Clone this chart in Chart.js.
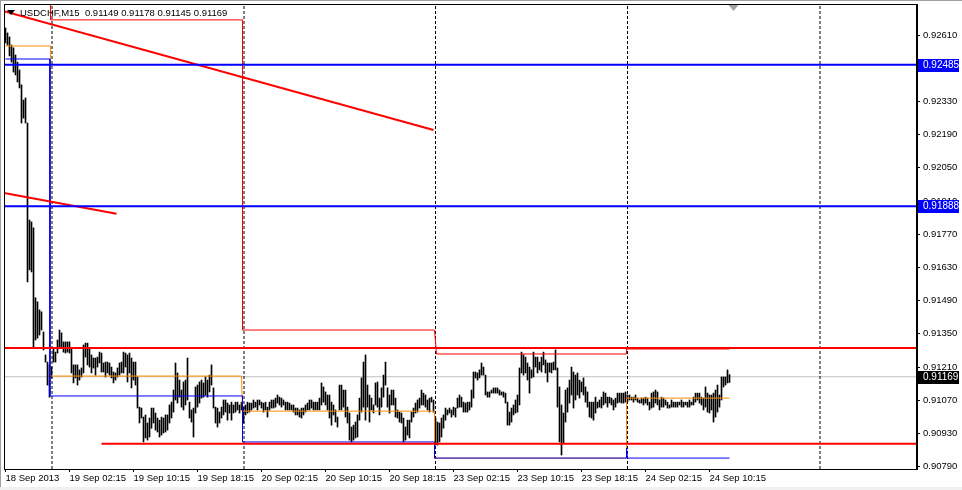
<!DOCTYPE html>
<html>
<head>
<meta charset="utf-8">
<script src="https://cdn.jsdelivr.net/npm/chart.js@4.4.1/dist/chart.umd.min.js"></script>
<style>
  html, body { margin: 0; padding: 0; background: #fff; }
  canvas { display: block; }
</style>
</head>
<body>
<canvas id="chart" width="962" height="490"></canvas>
<script>
// USDCHF M15, one bar per index (bar 0 = 18 Sep 18:15)
const title = "USDCHF,M15  0.91149 0.91178 0.91145 0.91169";

const barHigh = [
  0.92640,0.92619,0.92602,0.92568,0.92556,0.92526,0.92496,0.92463,0.92400,0.92336,0.92345,0.92239,0.91830,0.91822,0.91797,0.91502,0.91485,0.91451,0.91443,0.91358,0.91261,0.91231,0.91219,0.91210,
  0.91290,0.91273,0.91324,0.91366,0.91354,0.91316,0.91316,0.91316,0.91316,0.91290,0.91219,0.91219,0.91219,0.91198,0.91206,0.91303,0.91311,0.91311,0.91290,0.91261,0.91248,0.91248,
  0.91252,0.91273,0.91269,0.91227,0.91231,0.91231,0.91227,0.91210,0.91189,0.91185,
  0.91206,0.91227,0.91231,0.91273,0.91269,0.91261,0.91269,0.91248,0.91231,0.91231,
  0.91168,0.91041,0.91037,0.90999,0.91008,0.90974,0.90995,0.91037,0.91037,0.91016,
  0.90995,0.90986,0.90999,0.90995,0.91008,0.91008,0.91050,0.91062,0.91113,0.91227,
  0.91185,0.91155,0.91113,0.91147,0.91155,0.91248,0.91062,0.91029,0.91037,0.91126,
  0.91134,0.91147,0.91155,0.91143,0.91168,0.91155,0.91176,0.91219,0.91122,0.91041,
  0.91037,0.91020,0.91041,0.91071,0.91071,0.91058,0.91050,0.91062,0.91050,0.91062,
  0.91062,0.91050,0.91062,0.91041,0.91050,0.91062,0.91058,0.91058,0.91071,0.91062,
  0.91071,0.91071,
  0.91062,0.91058,0.91062,0.91041,0.91062,0.91071,0.91071,0.91079,0.91092,0.91083,
  0.91079,0.91071,0.91062,0.91062,0.91058,0.91050,0.91050,0.91037,0.91037,0.91029,
  0.91037,0.91037,0.91050,0.91058,0.91071,0.91071,0.91062,0.91062,0.91062,0.91079,
  0.91143,0.91126,0.91105,0.91092,0.91092,0.91062,0.91050,0.91029,0.90999,0.91134,
  0.91134,0.91113,0.91113,0.91041,0.91016,0.90957,0.90965,0.90978,0.91008,0.91079,
  0.91164,0.91231,0.91261,0.91134,0.91092,0.91079,0.91050,0.91143,0.91147,0.91079,
  0.91122,0.91176,0.91231,0.91122,0.91092,0.91113,0.91113,0.91079,0.91029,0.91020,
  0.91016,0.90995,0.90957,0.90986,0.90986,0.91020,0.91037,0.91058,0.91071,0.91079,
  0.91113,0.91100,0.91092,0.91071,0.91079,0.91083,0.91071,
  0.90995,0.90978,0.90974,0.90995,0.91008,0.91037,0.91029,0.91037,0.91029,0.91041,
  0.91037,0.91079,0.91092,0.91083,0.91062,0.91058,0.91062,0.91062,0.91113,0.91189,
  0.91189,0.91185,0.91198,0.91227,0.91210,0.91176,0.91105,0.91105,0.91113,0.91122,
  0.91122,0.91122,0.91113,0.91105,0.91105,0.91100,0.91062,0.91020,0.91037,0.91050,
  0.91071,0.91092,0.91206,0.91273,0.91261,0.91252,0.91227,0.91210,0.91198,0.91273,
  0.91252,0.91252,0.91231,0.91252,0.91273,0.91240,0.91227,0.91227,0.91227,0.91231,
  0.91282,0.91206,0.91126,0.91050,0.91016,0.91113,0.91122,0.91155,0.91210,0.91189,
  0.91176,0.91185,0.91155,0.91147,0.91164,0.91126,0.91105,0.91062,0.91062,0.91062,
  0.91083,0.91062,0.91071,
  0.91083,0.91105,0.91100,0.91083,0.91083,0.91079,0.91071,0.91079,0.91100,0.91100,
  0.91100,0.91100,0.91105,0.91092,0.91092,0.91083,0.91083,0.91092,0.91079,0.91071,
  0.91079,0.91079,0.91083,0.91079,0.91062,0.91100,0.91105,0.91113,0.91105,0.91071,
  0.91083,0.91079,0.91071,0.91062,0.91050,0.91071,0.91062,0.91062,0.91062,0.91062,
  0.91071,0.91062,0.91062,0.91062,0.91071,0.91062,0.91083,0.91100,0.91100,0.91100,
  0.91083,0.91079,0.91126,0.91100,0.91092,0.91092,0.91100,0.91113,0.91134,0.91092,
  0.91168,0.91168,0.91168,0.91198,0.91178
];

const barLow = [
  0.92577,0.92568,0.92522,0.92496,0.92454,0.92442,0.92412,0.92387,0.92239,0.92260,0.92239,0.91569,0.91620,0.91611,0.91290,0.91324,0.91332,0.91345,0.91366,0.91282,0.91231,0.91134,0.91083,0.91164,
  0.91231,0.91231,0.91269,0.91290,0.91294,0.91273,0.91269,0.91273,0.91269,0.91185,0.91143,0.91164,0.91134,0.91155,0.91168,0.91185,0.91252,0.91219,0.91210,0.91185,0.91206,0.91176,
  0.91210,0.91227,0.91189,0.91189,0.91168,0.91185,0.91176,0.91164,0.91143,0.91155,
  0.91168,0.91176,0.91185,0.91185,0.91210,0.91147,0.91185,0.91122,0.91155,0.91134,
  0.91037,0.90974,0.90995,0.90894,0.90911,0.90902,0.90915,0.90952,0.90974,0.90944,
  0.90936,0.90915,0.90923,0.90932,0.90936,0.90944,0.90974,0.90995,0.91020,0.91071,
  0.91058,0.91083,0.91041,0.91029,0.91050,0.91071,0.90995,0.90978,0.90915,0.91016,
  0.91041,0.91058,0.91079,0.91083,0.91092,0.91083,0.91105,0.91134,0.91037,0.90974,
  0.90957,0.90974,0.90995,0.91008,0.91020,0.90986,0.91016,0.90986,0.91016,0.91020,
  0.91029,0.91016,0.91029,0.90974,0.91008,0.91016,0.91020,0.91029,0.91037,0.91041,
  0.91029,0.91050,
  0.91037,0.91020,0.91029,0.90999,0.91029,0.91037,0.91037,0.91041,0.91058,0.91050,
  0.91041,0.91050,0.91029,0.91029,0.91029,0.91029,0.91020,0.91008,0.91008,0.90999,
  0.90995,0.91008,0.91020,0.91029,0.91029,0.91037,0.91029,0.91029,0.91029,0.91029,
  0.91050,0.91062,0.91050,0.91029,0.90995,0.90965,0.91008,0.90978,0.90957,0.91029,
  0.91029,0.91041,0.90999,0.90974,0.90902,0.90894,0.90902,0.90911,0.90915,0.90986,
  0.91020,0.91041,0.90986,0.91041,0.90978,0.91029,0.91016,0.91050,0.91041,0.91008,
  0.91041,0.91083,0.91134,0.91041,0.91016,0.91050,0.91050,0.90999,0.90995,0.90978,
  0.90974,0.90894,0.90902,0.90923,0.90911,0.90978,0.90999,0.91016,0.91020,0.91037,
  0.91050,0.91050,0.91041,0.91029,0.91020,0.91062,0.91020,
  0.90881,0.90881,0.90894,0.90915,0.90952,0.90986,0.91008,0.91016,0.90999,0.91008,
  0.90999,0.91037,0.91041,0.91041,0.91020,0.91020,0.91020,0.91029,0.91041,0.91079,
  0.91164,0.91155,0.91164,0.91176,0.91176,0.91092,0.91083,0.91083,0.91100,0.91100,
  0.91100,0.91100,0.91092,0.91092,0.91083,0.91058,0.90965,0.90965,0.90978,0.91008,
  0.91016,0.91020,0.91050,0.91185,0.91176,0.91185,0.91155,0.91100,0.91164,0.91168,
  0.91210,0.91185,0.91198,0.91189,0.91219,0.91185,0.91147,0.91189,0.91185,0.91198,
  0.91198,0.91041,0.90894,0.90839,0.90889,0.90978,0.91020,0.91058,0.91092,0.91037,
  0.91071,0.91092,0.91079,0.91105,0.91092,0.91062,0.91041,0.90999,0.90995,0.90986,
  0.91016,0.91037,0.91041,
  0.91037,0.91050,0.91058,0.91041,0.91058,0.91050,0.91029,0.91041,0.91058,0.91062,
  0.91058,0.91058,0.91062,0.91062,0.91071,0.91071,0.91062,0.91071,0.91062,0.91058,
  0.91058,0.91050,0.91058,0.91050,0.91029,0.91037,0.91041,0.91058,0.91050,0.91029,
  0.91041,0.91041,0.91050,0.91037,0.91037,0.91041,0.91041,0.91041,0.91041,0.91050,
  0.91041,0.91041,0.91050,0.91041,0.91041,0.91050,0.91050,0.91062,0.91071,0.91058,
  0.91050,0.91029,0.91041,0.91020,0.91016,0.91029,0.90978,0.90999,0.91020,0.91041,
  0.91071,0.91126,0.91134,0.91143,0.91145
];

// time axis labels (bar index -> text)
const xTickBars = [0, 32, 64, 96, 128, 160, 192, 224, 256, 288, 320, 352];
const xTickLabels = ["18 Sep 2013", "19 Sep 02:15", "19 Sep 10:15", "19 Sep 18:15", "20 Sep 02:15",
  "20 Sep 10:15", "20 Sep 18:15", "23 Sep 02:15", "23 Sep 10:15", "23 Sep 18:15", "24 Sep 02:15", "24 Sep 10:15"];
const yTicks = [0.90790, 0.90930, 0.91070, 0.91210, 0.91350, 0.91490, 0.91630, 0.91770,
  0.91910, 0.92050, 0.92190, 0.92330, 0.92470, 0.92610];
const daySeparators = [23.25, 119.25, 215, 311, 407.25];

// objects on the chart
const blueLevels = [0.92485, 0.91888];
const redLevel = 0.91290;
const supportLevel = 0.90886, supportFrom = 48;
const bidPrice = 0.91169;
const trendA = [[-0.75, 0.92711], [214, 0.92210]];
const trendB = [[-0.75, 0.91944], [55.5, 0.91856]];
const prevHighSteps = [[22.5, 0.92800], [22.5, 0.92674], [118.5, 0.92674], [118.5, 0.91366], [214.5, 0.91366],
  [215.5, 0.91265], [310.5, 0.91265], [310.5, 0.91286], [362, 0.91286]];
const openSteps = [[0, 0.92564], [22.5, 0.92564], [22.5, 0.91172], [118, 0.91172], [118.5, 0.91024], [214.5, 0.91024],
  [214.5, 0.90826], [310.5, 0.90826], [310.5, 0.91079], [362, 0.91079]];
const prevLowSteps = [[0, 0.92509], [22.2, 0.92509], [22.2, 0.91088], [118.5, 0.91088], [118.5, 0.90894], [214.5, 0.90894],
  [214.5, 0.90826], [310.5, 0.90826], [310.5, 0.90868], [311, 0.90826], [362, 0.90826]];

const xMin = -0.75, xMax = 455.75, yMin = 0.90780, yMax = 0.92741;
const FONT = "Liberation Sans";

const pts = arr => arr.map(p => ({ x: p[0], y: p[1] }));
const hline = (y, from = xMin) => [{ x: from, y }, { x: xMax, y }];

function lineDs(data, color, width, order, dash) {
  return { type: "line", data, borderColor: color, borderWidth: width, pointRadius: 0,
    tension: 0, order, borderDash: dash || [], fill: false };
}

const datasets = [
  { type: "bar", data: barHigh.map((h, i) => ({ x: i, y: [barLow[i], h] })),
    backgroundColor: "#000", borderWidth: 0, barThickness: 1, order: 5 },
  lineDs(hline(bidPrice), "#c0c0c0", 1, 6),
  ...daySeparators.map(d => lineDs([{ x: d, y: yMin }, { x: d, y: yMax }], "#000", 1, 4, [3, 2])),
  lineDs(pts(prevLowSteps), "#0000ff", 1, 3),
  lineDs(pts(openSteps), "#ff8c00", 1, 3),
  lineDs(pts(prevHighSteps), "#ff0000", 1, 3),
  ...blueLevels.map(v => lineDs(hline(v), "#0000ff", 2, 1)),
  lineDs(hline(redLevel), "#ff0000", 2, 1),
  lineDs(hline(supportLevel, supportFrom), "#ff0000", 2, 1),
  lineDs(pts(trendA), "#ff0000", 2, 1),
  lineDs(pts(trendB), "#ff0000", 2, 1)
];

const overlay = {
  id: "overlay",
  beforeDraw(chart) {
    const { ctx, width, height } = chart;
    ctx.save();
    ctx.fillStyle = "#fff";
    ctx.fillRect(0, 0, width, height);
    ctx.restore();
  },
  afterDraw(chart) {
    const { ctx, chartArea: a, scales, width, height } = chart;
    ctx.save();
    // frame around the plot
    ctx.strokeStyle = "#000";
    ctx.lineWidth = 1;
    ctx.strokeRect(a.left + 0.5, a.top + 0.5, a.right - a.left - 1, a.bottom - a.top);
    // window edge
    ctx.fillStyle = "#a0a0a0";
    ctx.fillRect(0, 0, width, 1);
    ctx.fillRect(0, 0, 1, height);
    ctx.fillStyle = "#f0f0f0";
    ctx.fillRect(0, height - 3, width, 3);
    // symbol header
    ctx.fillStyle = "#000";
    ctx.beginPath();
    ctx.moveTo(7, 10); ctx.lineTo(15, 10); ctx.lineTo(11, 15); ctx.closePath(); ctx.fill();
    ctx.font = "9.5px '" + FONT + "'";
    ctx.textBaseline = "alphabetic";
    ctx.fillText(title, 20, 16);
    // chart shift marker
    const sx = scales.x.getPixelForValue(364);
    ctx.fillStyle = "#a0a0a0";
    ctx.beginPath();
    ctx.moveTo(sx - 5, a.top + 1); ctx.lineTo(sx + 5, a.top + 1); ctx.lineTo(sx, a.top + 7); ctx.closePath(); ctx.fill();
    // price tags on the axis
    const tags = [[blueLevels[0], "#0000ff"], [blueLevels[1], "#0000ff"], [bidPrice, "#000"]];
    ctx.font = "10px '" + FONT + "'";
    ctx.textBaseline = "middle";
    tags.forEach(([v, bg]) => {
      const y = Math.round(scales.y.getPixelForValue(v));
      ctx.fillStyle = bg;
      ctx.fillRect(a.right + 1, y - 6, 41, 13);
      ctx.fillStyle = "#fff";
      ctx.fillText(v.toFixed(5), a.right + 6, y + 0.5);
    });
    ctx.restore();
  }
};

new Chart(document.getElementById("chart"), {
  type: "bar",
  data: { datasets },
  options: {
    responsive: false,
    animation: false,
    devicePixelRatio: 1,
    layout: { padding: { left: 4, top: 4, right: 0, bottom: 0 } },
    plugins: { legend: { display: false }, tooltip: { enabled: false } },
    scales: {
      x: {
        type: "linear", min: xMin, max: xMax, offset: false,
        afterBuildTicks: s => { s.ticks = xTickBars.map(v => ({ value: v })); },
        afterFit: s => { s.height = 21; s.paddingLeft = 0; s.paddingRight = 0; },
        ticks: { autoSkip: false, maxRotation: 0, minRotation: 0, align: "start", padding: 1, color: "#000",
          font: { family: FONT, size: 9.5 }, callback: v => xTickLabels[xTickBars.indexOf(v)] },
        grid: { drawOnChartArea: false, drawTicks: true, tickLength: 3, color: "#000", offset: false },
        border: { display: true, color: "#000" }
      },
      y: {
        type: "linear", position: "right", min: yMin, max: yMax,
        afterBuildTicks: s => { s.ticks = yTicks.map(v => ({ value: v })); },
        afterFit: s => { s.width = 45; s.paddingTop = 0; s.paddingBottom = 0; },
        ticks: { color: "#000", padding: 3, font: { family: FONT, size: 9.5 }, callback: v => v.toFixed(5) },
        grid: { drawOnChartArea: false, drawTicks: true, tickLength: 3, color: "#000" },
        border: { display: true, color: "#000" }
      }
    }
  },
  plugins: [overlay]
});
</script>
</body>
</html>
